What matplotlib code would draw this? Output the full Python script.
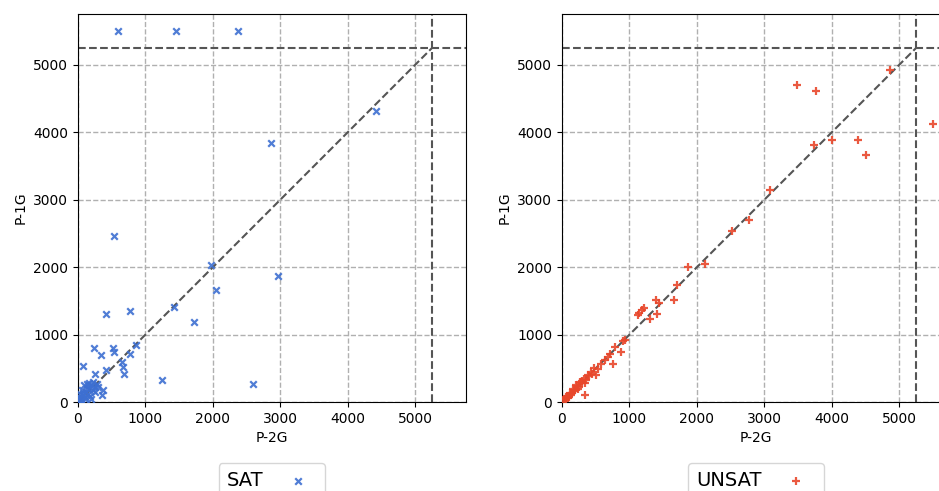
import numpy as np
import matplotlib
matplotlib.use('Agg')
from matplotlib import pyplot as plt

timeout = 5250
timeout_plot = 5500

# SAT instances: (P-2G time, P-1G time)
sat_x = [593, 1454, 2374, 4421, 2864, 534, 1973, 2967, 2047, 1721, 1424, 415, 772,
         1246, 2596, 525, 540, 860, 772, 648, 672, 682, 337, 237, 79, 417, 253, 376, 352,
         20, 40, 60, 80, 100, 120, 150, 170, 200, 220, 250, 60, 90, 130, 180, 30, 10, 50,
         110, 140, 230, 280, 260, 70, 190, 300, 160, 15]
sat_y = [5500, 5500, 5500, 4320, 3846, 2470, 2027, 1864, 1657, 1183, 1405, 1302, 1346,
         325, 266, 809, 744, 840, 720, 596, 522, 424, 695, 809, 536, 473, 424, 178, 104,
         30, 60, 20, 100, 80, 150, 120, 200, 250, 180, 230, 180, 260, 270, 90, 120, 10, 50,
         40, 210, 300, 270, 150, 140, 40, 230, 280, 80]

# UNSAT instances
unsat_x = [3485, 3765, 4866, 5500, 3735, 4004, 4393, 4505, 3084, 2779, 2519, 2118, 1872,
           1710, 1662, 1441, 1401, 1416, 1304, 1221, 1187, 1147, 1122, 902, 936, 878, 779,
           755, 706, 676, 632, 583, 510, 534, 338,
           20, 40, 60, 80, 100, 120, 150, 170, 200, 220, 250, 270, 300, 320, 350, 380, 400,
           430, 450, 470, 130, 240, 290, 340, 90, 60, 180, 210]
unsat_y = [4704, 4615, 4930, 4120, 3817, 3886, 3890, 3664, 3151, 2702, 2533, 2041, 2006,
           1731, 1509, 1469, 1509, 1302, 1238, 1401, 1371, 1321, 1287, 907, 917, 744, 818,
           571, 720, 670, 621, 571, 399, 498, 104,
           15, 50, 40, 90, 80, 140, 130, 190, 180, 240, 230, 300, 280, 350, 330, 400, 380,
           450, 420, 500, 100, 200, 320, 290, 60, 80, 160, 250]

fig = plt.figure(figsize=(9.39, 4.91), dpi=100)
ax1 = fig.add_axes([0.083, 0.181, 0.413, 0.79])
ax2 = fig.add_axes([0.5985, 0.181, 0.413, 0.79])

panels = [(ax1, sat_x, sat_y, 'x', '#3d6fd1', 'SAT', 22),
          (ax2, unsat_x, unsat_y, '+', '#e8472b', 'UNSAT', 28)]

lim = timeout_plot + 250
for ax, xs, ys, mk, col, lab, sz in panels:
    ax.scatter(xs, ys, marker=mk, color=col, s=sz, linewidths=1.6, alpha=0.9,
               label=lab, zorder=3)
    ax.plot([0, timeout], [0, timeout], '--', color='#555555', lw=1.5, zorder=2)
    ax.axvline(timeout, ls='--', color='#555555', lw=1.5, zorder=2)
    ax.axhline(timeout, ls='--', color='#555555', lw=1.5, zorder=2)
    ax.set_xlim(0, lim)
    ax.set_ylim(0, lim)
    ax.set_xticks(np.arange(0, 6000, 1000))
    ax.set_yticks(np.arange(0, 6000, 1000))
    ax.grid(True, ls='--', color='#b0b0b0', lw=1.0)
    ax.set_axisbelow(True)
    ax.set_xlabel('P-2G')
    ax.set_ylabel('P-1G')
    ax.legend(loc='upper center', bbox_to_anchor=(0.5, -0.157), borderaxespad=0,
              markerfirst=False, fontsize=14)

fig.savefig('out.png', dpi=100)
